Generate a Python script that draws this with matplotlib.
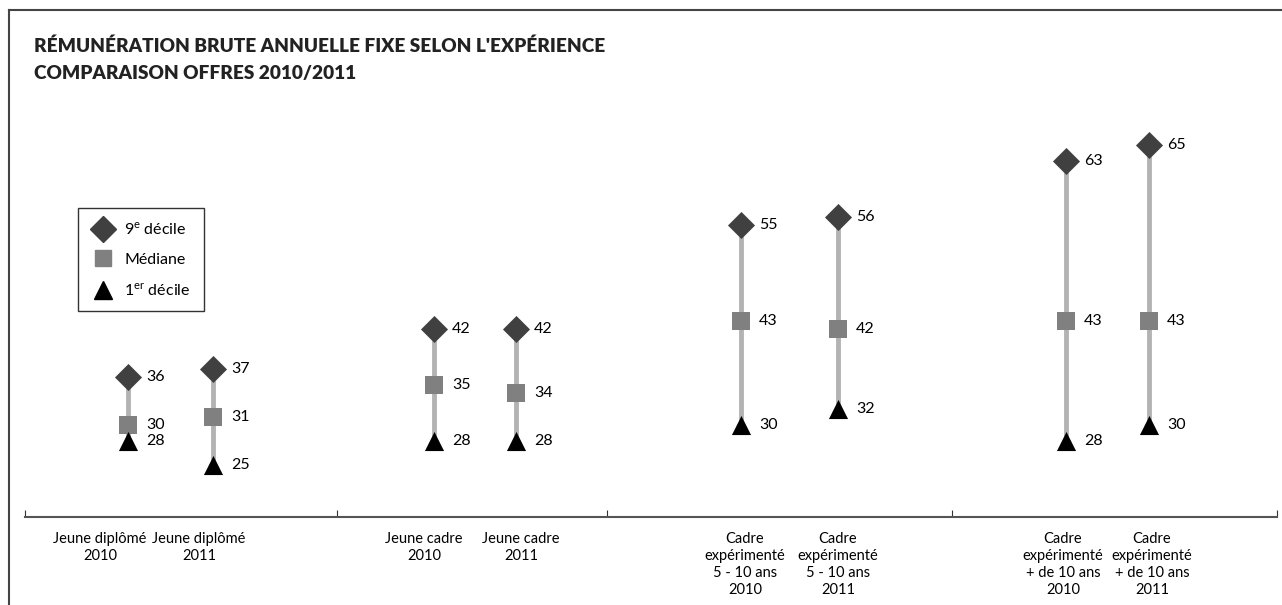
import matplotlib.pyplot as plt
from matplotlib.lines import Line2D

plt.rcParams['font.family'] = ['Lato', 'DejaVu Sans']
plt.rcParams['mathtext.fontset'] = 'custom'
plt.rcParams['mathtext.rm'] = 'Lato'

labels = ['Jeune diplômé\n2010', 'Jeune diplômé\n2011',
          'Jeune cadre\n2010', 'Jeune cadre\n2011',
          'Cadre\nexpérimenté\n5 - 10 ans\n2010', 'Cadre\nexpérimenté\n5 - 10 ans\n2011',
          'Cadre\nexpérimenté\n+ de 10 ans\n2010', 'Cadre\nexpérimenté\n+ de 10 ans\n2011']
decile9 = [36, 37, 42, 42, 55, 56, 63, 65]
mediane = [30, 31, 35, 34, 43, 42, 43, 43]
decile1 = [28, 25, 28, 28, 30, 32, 28, 30]

# layout (x in pixel-like units along the axis)
xpos = [128, 213, 434, 516, 741, 838, 1066, 1149]
labelpos = [100, 199, 424, 521, 745, 838, 1063, 1152]
bounds = [25, 337, 607, 952, 1277]

fig = plt.figure(figsize=(12.82, 6.05), dpi=100)
ax = fig.add_axes([25 / 1282, 88 / 605, 1252 / 1282, 420 / 605])
ax.set_xlim(25, 1277)
ax.set_ylim(18.5, 71)

for x, lo, hi in zip(xpos, decile1, decile9):
    ax.plot([x, x], [lo, hi], color='#b3b3b3', lw=3.5, zorder=1)

ax.scatter(xpos, decile9, marker='D', s=190, color='#404040', zorder=3, linewidths=0)
ax.scatter(xpos, mediane, marker='s', s=170, color='#808080', zorder=3, linewidths=0)
ax.scatter(xpos, decile1, marker='^', s=190, color='black', zorder=3, linewidths=0)

for x, a, b, c in zip(xpos, decile9, mediane, decile1):
    for v in (a, b, c):
        ax.annotate(str(v), (x, v), xytext=(13, 0), textcoords='offset points',
                    va='center', ha='left', fontsize=11.5)

for s in ['top', 'right', 'left']:
    ax.spines[s].set_visible(False)
ax.spines['bottom'].set_color('#555555')
ax.spines['bottom'].set_linewidth(1.5)
ax.set_yticks([])
ax.set_xticks(bounds)
ax.set_xticklabels([])
ax.tick_params(axis='x', which='major', direction='in', length=5, color='#333333')
ax.set_xticks(labelpos, minor=True)
ax.set_xticklabels(labels, minor=True, fontsize=10.5, linespacing=1.25)
ax.tick_params(axis='x', which='minor', length=0, pad=11)

handles = [Line2D([], [], marker='D', color='#404040', ls='', ms=13),
           Line2D([], [], marker='s', color='#808080', ls='', ms=12),
           Line2D([], [], marker='^', color='black', ls='', ms=13)]
leg = fig.legend(handles, ['9$^{\\mathrm{e}}$ décile', 'Médiane', '1$^{\\mathrm{er}}$ décile'],
                 loc='upper left', bbox_to_anchor=(78 / 1282, 1 - 208 / 605), borderaxespad=0,
                 fancybox=False, edgecolor='black', fontsize=11.5, handletextpad=0.6,
                 labelspacing=0.95, borderpad=0.8, handlelength=1.5)
leg.get_frame().set_linewidth(1)

fig.text(34 / 1282, 1 - 46 / 605, "RÉMUNÉRATION BRUTE ANNUELLE FIXE SELON L'EXPÉRIENCE",
         fontsize=13.7, fontweight='heavy', color='#222222', va='center')
fig.text(34 / 1282, 1 - 74 / 605, "COMPARAISON OFFRES 2010/2011",
         fontsize=13.7, fontweight='heavy', color='#222222', va='center')

fig.add_artist(Line2D([9 / 1282, 1], [1 - 10 / 605] * 2, color='#444444', lw=1.5))
fig.add_artist(Line2D([9 / 1282] * 2, [0, 1 - 10 / 605], color='#444444', lw=1.5))

fig.savefig('out.png', dpi=100)
